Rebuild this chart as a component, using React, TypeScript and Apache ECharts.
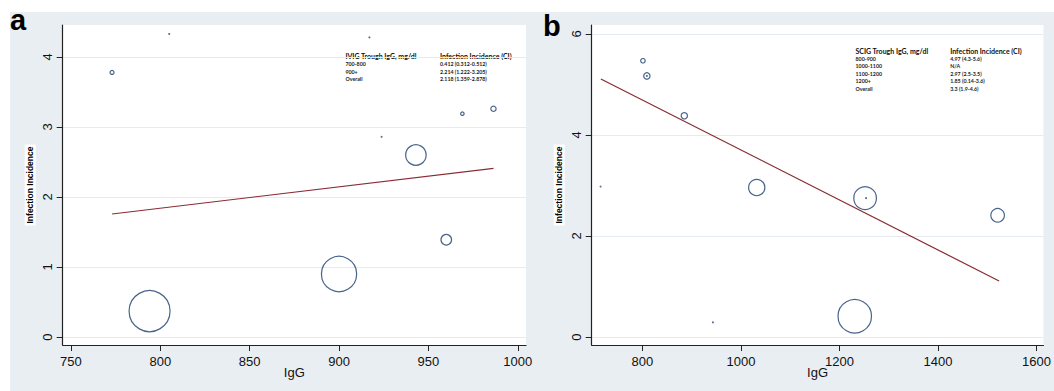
import React, { useEffect, useRef } from "react";
import * as echarts from "echarts";

// Panel a (IVIG)
const xTicksA = [750, 800, 850, 900, 950, 1000];
const yTicksA = [0, 1, 2, 3, 4];
const iggA = [794, 900, 943, 960, 773, 969, 986.4, 805, 917, 923.8];
const incA = [0.37, 0.9, 2.6, 1.39, 3.78, 3.19, 3.26, 4.33, 4.28, 2.86];
const weightA = [420, 310, 105, 28, 4, 3, 7, 0.12, 0.12, 0.12];
const fitA = [
  [773, 1.757],
  [986.4, 2.41],
];
const tableHeadA = ["IVIG Trough IgG, mg/dl", "Infection Incidence (CI)"];
const tableRowsA = ["700-800", "900+", "Overall"];
const tableValsA = ["0.412 (0.312-0.512)", "2.214 (1.222-3.205)", "2.118 (1.359-2.878)"];

// Panel b (SCIG)
const xTicksB = [800, 1000, 1200, 1400, 1600];
const yTicksB = [0, 2, 4, 6];
const iggB = [1231, 1252, 1032, 1521, 809, 885, 801, 715, 943, 1254, 809];
const incB = [0.41, 2.75, 2.96, 2.41, 5.17, 4.38, 5.47, 2.98, 0.29, 2.75, 5.17];
const weightB = [280, 128, 66, 46, 10, 10, 5, 0.12, 0.12, 0.12, 0.12];
const fitB = [
  [715.6, 5.11],
  [1524, 1.11],
];
const tableHeadB = ["SCIG Trough IgG, mg/dl", "Infection Incidence (CI)"];
const tableRowsB = ["800-900", "1000-1100", "1100-1200", "1200+", "Overall"];
const tableValsB = ["4.97 (4.3-5.6)", "N/A", "2.97 (2.5-3.5)", "1.85 (0.14-3.6)", "3.3 (1.9-4.6)"];

const FONT = "Liberation Sans, Arial, sans-serif";
const TABLE_FONT = "Lato, Liberation Sans, sans-serif";
const NAVY = "#1b3d6e";
const MAROON = "#8a2b33";
const GRIDLINE = "#e6ebef";
const AXIS = "#222";

const plain = (v: number) => String(v);

function xAxisOpt(gridIndex: number, min: number, max: number, ticks: number[]) {
  return {
    gridIndex,
    type: "value",
    min,
    max,
    axisLine: { show: true, onZero: false, lineStyle: { color: AXIS, width: 1.2 } },
    axisTick: { show: true, length: 6, customValues: ticks, lineStyle: { color: AXIS, width: 1 } },
    axisLabel: { customValues: ticks, formatter: plain, fontSize: 13, color: "#111", margin: 10, fontFamily: FONT },
    splitLine: { show: false },
    name: "IgG",
    nameLocation: "middle",
    nameGap: 21,
    nameMoveOverlap: false,
    nameTextStyle: { fontSize: 13, color: "#111", fontFamily: FONT },
  };
}

function yAxisOpt(gridIndex: number, min: number, max: number, ticks: number[]) {
  return {
    gridIndex,
    type: "value",
    min,
    max,
    axisLine: { show: true, onZero: false, lineStyle: { color: AXIS, width: 1.2 } },
    axisTick: { show: true, length: 6, customValues: ticks, lineStyle: { color: AXIS, width: 1 } },
    axisLabel: { customValues: ticks, formatter: plain, rotate: 90, fontSize: 13, color: "#111", margin: 9, fontFamily: FONT },
    splitLine: { show: true, lineStyle: { color: GRIDLINE, width: 1 } },
    name: "Infection Incidence",
    nameLocation: "middle",
    nameRotate: 90,
    nameGap: 27,
    nameMoveOverlap: false,
    nameTextStyle: {
      fontSize: 8.5,
      fontWeight: "bold",
      color: "#000",
      fontFamily: FONT,
      backgroundColor: "#fff",
      padding: [1, 2],
    },
  };
}

function scatterSeries(idx: number, xs: number[], ys: number[], ws: number[]) {
  return {
    type: "scatter",
    xAxisIndex: idx,
    yAxisIndex: idx,
    silent: true,
    symbol: "circle",
    symbolSize: (v: number[]) => Math.max(0.8, 2 * Math.sqrt(v[2])),
    itemStyle: { color: "rgba(0,0,0,0)", borderColor: NAVY, borderWidth: 1.2 },
    data: xs.map((x, i) => [x, ys[i], ws[i]]),
    z: 3,
  };
}

function fitSeries(idx: number, pts: number[][]) {
  return {
    type: "line",
    xAxisIndex: idx,
    yAxisIndex: idx,
    silent: true,
    symbol: "none",
    lineStyle: { color: MAROON, width: 1.2 },
    data: pts,
    z: 2,
  };
}

function tableTexts(x0: number, x1: number, yHead: number, yRow0: number, step: number, head: string[], rows: string[], vals: string[]) {
  const els: any[] = [];
  const head0 = { fontSize: 7, fontWeight: "bold", fontFamily: TABLE_FONT, fill: "#111", verticalAlign: "middle", align: "left" };
  const rowSt = { fontSize: 5.3, fontWeight: "bold", fontFamily: TABLE_FONT, fill: "#222", verticalAlign: "middle", align: "left" };
  els.push({ type: "text", x: x0, y: yHead, style: { ...head0, text: head[0] } });
  els.push({ type: "text", x: x1, y: yHead, style: { ...head0, text: head[1] } });
  rows.forEach((r, i) => {
    els.push({ type: "text", x: x0, y: yRow0 + i * step, style: { ...rowSt, text: r } });
    els.push({ type: "text", x: x1, y: yRow0 + i * step, style: { ...rowSt, text: vals[i] } });
  });
  return els;
}

export default function App() {
  const ref = useRef<HTMLDivElement>(null);
  useEffect(() => {
    if (!ref.current) return;
    const chart = echarts.init(ref.current, undefined, { renderer: "svg" });
    chart.setOption({
      animation: false,
      grid: [
        { left: 62.7, top: 25, width: 463.3, height: 320, show: true, backgroundColor: "#fff", borderWidth: 0 },
        { left: 591.7, top: 25, width: 463.3, height: 320, show: true, backgroundColor: "#fff", borderWidth: 0 },
      ],
      xAxis: [xAxisOpt(0, 745.4, 1004.6, xTicksA), xAxisOpt(1, 697, 1614, xTicksB)],
      yAxis: [yAxisOpt(0, -0.114, 4.457, yTicksA), yAxisOpt(1, -0.158, 6.178, yTicksB)],
      series: [
        fitSeries(0, fitA),
        scatterSeries(0, iggA, incA, weightA),
        fitSeries(1, fitB),
        scatterSeries(1, iggB, incB, weightB),
      ],
      graphic: [
        { type: "text", x: 10, y: 20, style: { text: "a", fontSize: 29, fontWeight: "bold", fontFamily: FONT, fill: "#000", verticalAlign: "middle" } },
        { type: "text", x: 543, y: 26, style: { text: "b", fontSize: 29, fontWeight: "bold", fontFamily: FONT, fill: "#000", verticalAlign: "middle" } },
        ...tableTexts(345.4, 440, 55.7, 64.3, 7.2, tableHeadA, tableRowsA, tableValsA),
        ...tableTexts(855.5, 950.2, 51, 59, 7.4, tableHeadB, tableRowsB, tableValsB),
      ],
    });
    return () => chart.dispose();
  }, []);
  return (
    <div style={{ position: "fixed", left: 0, top: 0, width: 1054, height: 391, background: "#fff", overflow: "hidden" }}>
      <div style={{ position: "absolute", left: 10, top: 12, right: 0, bottom: 0, background: "#e9eef2" }} />
      <div ref={ref} style={{ position: "absolute", left: 0, top: 0, width: 1054, height: 391 }} />
    </div>
  );
}
